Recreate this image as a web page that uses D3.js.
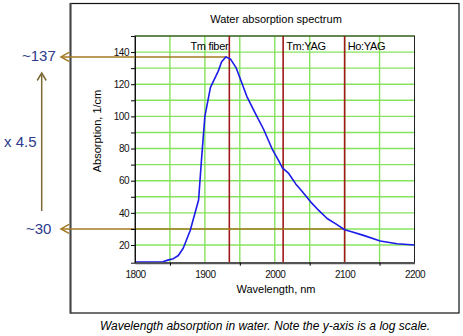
<!DOCTYPE html>
<html>
<head>
<meta charset="utf-8">
<script src="https://d3js.org/d3.v7.min.js"></script>
<style>
  body { margin: 0; background: #fff; }
  svg { font-family: "Liberation Sans", Arial, sans-serif; }
  .note { fill: #2e3a8c; font-size: 15px; }
</style>
</head>
<body>
<div id="chart"></div>
<script>
// absorption curve (nm, 1/cm)
var wavelength = [1800, 1820, 1840, 1847, 1855, 1862, 1869, 1879, 1891, 1895, 1900, 1908, 1919, 1924, 1930, 1937, 1945, 1960, 1972, 1984, 1996, 2005, 2011, 2020, 2030, 2039, 2051, 2063, 2075, 2088, 2100, 2110, 2127, 2151, 2175, 2200];
var absorption = [9.4, 9.4, 9.6, 10.6, 11.5, 13.5, 18, 29, 48, 72, 100, 118, 128, 134, 137, 135.5, 130, 112.5, 102, 92, 80, 73, 68, 64.5, 58, 53.5, 47, 41.5, 36.5, 33, 29.5, 28.2, 26, 22.5, 20.8, 20];
var lasers = [{name: "Tm fiber", nm: 1935, side: "left"}, {name: "Tm:YAG", nm: 2012, side: "right"}, {name: "Ho:YAG", nm: 2100, side: "right"}];
var xTicks = [1800, 1900, 2000, 2100, 2200];
var yTicks = [20, 40, 60, 80, 100, 120, 140];
var peak = 137, tail = 30;

var W = 463, H = 336;
var svg = d3.select("#chart").append("svg").attr("width", W).attr("height", H);

var x = d3.scaleLinear().domain([1800, 2200]).range([135, 414.5]);
var y = d3.scaleLinear().domain([9, 150]).range([262.7, 36]);

// outer frame
svg.append("rect").attr("x", 70.5).attr("y", 3.5).attr("width", 388.5).attr("height", 309.5)
  .attr("fill", "none").attr("stroke", "#111").attr("stroke-width", 1.2);
svg.append("line").attr("x1", 70.5).attr("x2", 70.5).attr("y1", 3).attr("y2", 313.5)
  .attr("stroke", "#444").attr("stroke-width", 2);

svg.append("text").attr("x", 276).attr("y", 23).attr("text-anchor", "middle")
  .style("font-size", "11px").text("Water absorption spectrum");

// grid
var g = svg.append("g");
g.selectAll(".hg").data(d3.range(20, 151, 10)).enter().append("line")
  .attr("x1", x(1800)).attr("x2", x(2200))
  .attr("y1", function(d) { return y(d); }).attr("y2", function(d) { return y(d); })
  .attr("stroke", "#86e35c").attr("stroke-width", 1.4);
g.selectAll(".vg").data(d3.range(1850, 2200, 50)).enter().append("line")
  .attr("y1", y(150)).attr("y2", y(9))
  .attr("x1", function(d) { return x(d); }).attr("x2", function(d) { return x(d); })
  .attr("stroke", "#86e35c").attr("stroke-width", 1.4);

// plot border
svg.append("rect").attr("x", x(1800)).attr("y", y(150)).attr("width", x(2200) - x(1800)).attr("height", y(9) - y(150))
  .attr("fill", "none").attr("stroke", "#222").attr("stroke-width", 1);

// laser lines
svg.selectAll(".laser").data(lasers).enter().append("line")
  .attr("x1", function(d) { return x(d.nm); }).attr("x2", function(d) { return x(d.nm); })
  .attr("y1", y(150)).attr("y2", y(9))
  .attr("stroke", "#a01818").attr("stroke-width", 1.6);
svg.selectAll(".laserlab").data(lasers).enter().append("text")
  .attr("x", function(d) { return d.side === "left" ? x(d.nm) - 1 : x(d.nm) + 3; })
  .attr("y", 50)
  .attr("text-anchor", function(d) { return d.side === "left" ? "end" : "start"; })
  .style("font-size", "11px").style("letter-spacing", "-0.3px")
  .text(function(d) { return d.name; });

// brown reference lines
var brown = "#a47a22";
svg.append("line").attr("x1", 61).attr("x2", x(1932)).attr("y1", y(peak)).attr("y2", y(peak))
  .attr("stroke", brown).attr("stroke-width", 1.5);
svg.append("line").attr("x1", 61).attr("x2", x(2100)).attr("y1", y(tail)).attr("y2", y(tail))
  .attr("stroke", brown).attr("stroke-width", 1.5);
function chevronLeft(yy) {
  svg.append("path").attr("d", "M69," + (yy - 4.5) + "L61," + yy + "L69," + (yy + 4.5))
    .attr("fill", "none").attr("stroke", brown).attr("stroke-width", 1.5);
}
chevronLeft(y(peak));
chevronLeft(y(tail));
svg.append("line").attr("x1", 41.7).attr("x2", 41.7).attr("y1", 211).attr("y2", 73)
  .attr("stroke", "#7d6a35").attr("stroke-width", 1.5);
svg.append("path").attr("d", "M37.2,80.5L41.7,73L46.2,80.5")
  .attr("fill", "none").attr("stroke", "#7d6a35").attr("stroke-width", 1.5);

svg.append("text").attr("class", "note").attr("x", 22).attr("y", 61).text("~" + peak);
svg.append("text").attr("class", "note").attr("x", 4).attr("y", 147).text("x 4.5");
svg.append("text").attr("class", "note").attr("x", 26).attr("y", 234).text("~" + tail);

// curve
var pts = wavelength.map(function(w, i) { return [w, absorption[i]]; });
svg.append("path").datum(pts)
  .attr("d", d3.line().x(function(d) { return x(d[0]); }).y(function(d) { return y(d[1]); }))
  .attr("fill", "none").attr("stroke", "#1b1bea").attr("stroke-width", 1.6).attr("stroke-linejoin", "round");

// axes
var xAxis = svg.append("g").attr("transform", "translate(0," + y(9) + ")")
  .call(d3.axisBottom(x).tickValues(xTicks).tickSize(0).tickPadding(8).tickFormat(d3.format("d")));
xAxis.select(".domain").attr("stroke", "#555").attr("stroke-width", 2);
svg.append("g").attr("transform", "translate(0," + y(9) + ")")
  .call(d3.axisBottom(x).tickValues(d3.range(1850, 2200, 100)).tickSize(3).tickFormat(""))
  .select(".domain").remove();
xAxis.selectAll("text").style("font-size", "10px").style("letter-spacing", "-0.5px").attr("fill", "#111");

var yAxis = svg.append("g").attr("transform", "translate(" + x(1800) + ",0)")
  .call(d3.axisLeft(y).tickValues(yTicks).tickSize(4).tickPadding(2));
yAxis.select(".domain").attr("stroke", "#111");
yAxis.selectAll("text").style("font-size", "10px").style("letter-spacing", "-0.5px").attr("fill", "#111");
svg.append("g").attr("transform", "translate(" + x(1800) + ",0)")
  .call(d3.axisLeft(y).tickValues(d3.range(30, 150, 20)).tickSize(4).tickFormat(""))
  .select(".domain").remove();

svg.append("text").attr("transform", "translate(101,131) rotate(-90)").attr("text-anchor", "middle")
  .style("font-size", "11px").text("Absorption, 1/cm");
svg.append("text").attr("x", 276).attr("y", 293).attr("text-anchor", "middle")
  .style("font-size", "11px").text("Wavelength, nm");

svg.append("text").attr("x", 265).attr("y", 330).attr("text-anchor", "middle")
  .style("font-size", "12px").style("font-style", "italic")
  .text("Wavelength absorption in water. Note the y-axis is a log scale.");
</script>
</body>
</html>
